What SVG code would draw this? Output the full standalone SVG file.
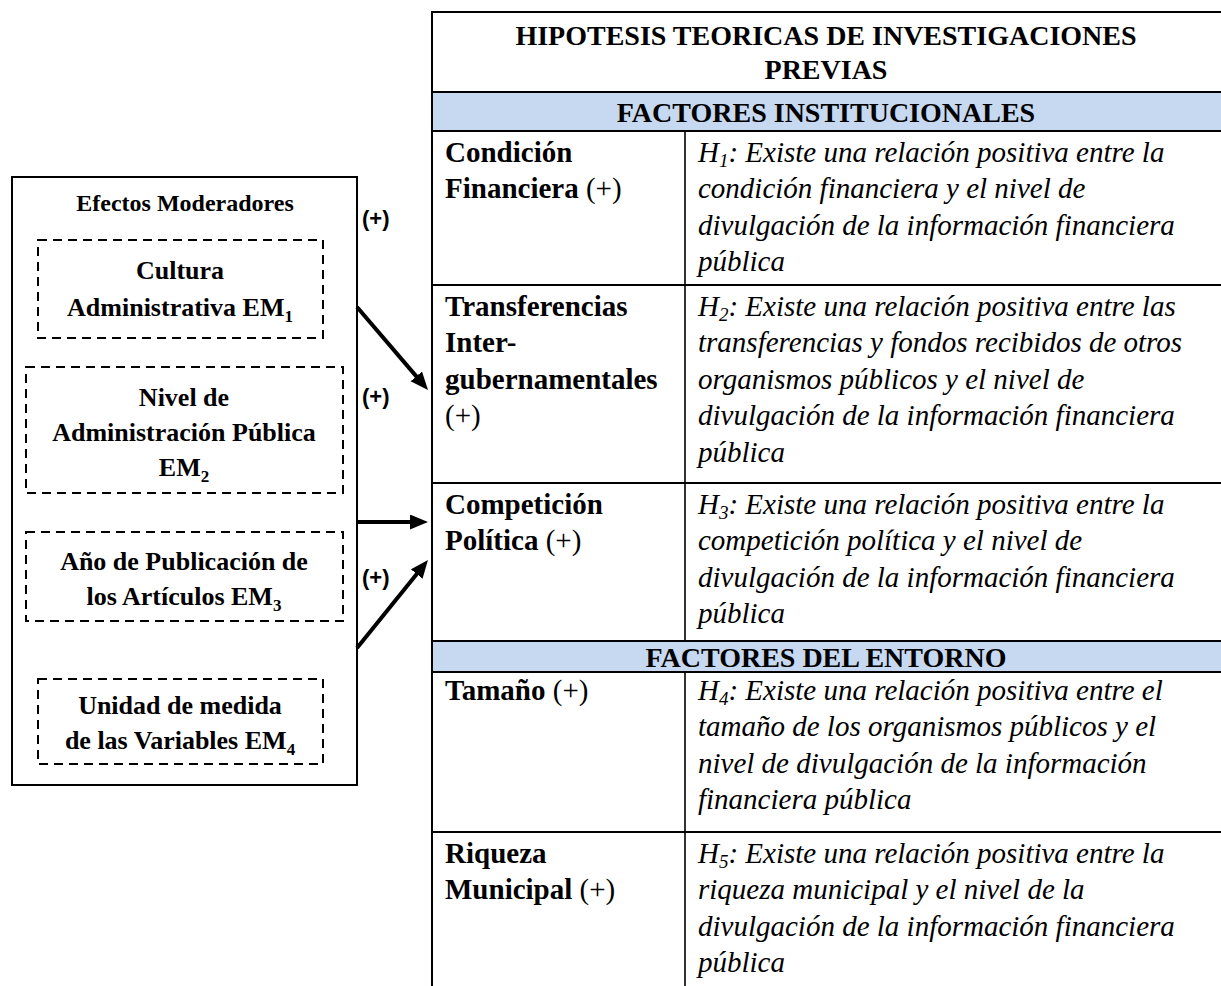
<svg xmlns="http://www.w3.org/2000/svg" width="1221" height="986" viewBox="0 0 1221 986">
<style>
.bg{fill:#ffffff}
.band{fill:#c6d9f1}
.rule{stroke:#000;stroke-width:2;fill:none}
.col{stroke:#000;stroke-width:1.6;fill:none}
.hdr{font-family:"Liberation Serif","Times New Roman",serif;font-weight:bold;font-size:28px;fill:#000;text-anchor:middle}
.lbl{font-family:"Liberation Serif","Times New Roman",serif;font-weight:bold;font-size:29px;fill:#000}
.reg{font-weight:normal}
.hyp{font-family:"Liberation Serif","Times New Roman",serif;font-style:italic;font-size:29px;fill:#000}
.sub{font-size:19px}
.outer{stroke:#000;stroke-width:2;fill:#fff}
.dash{stroke:#000;stroke-width:2;fill:none;stroke-dasharray:9 6}
.em{font-family:"Liberation Serif","Times New Roman",serif;font-weight:bold;font-size:26px;fill:#000;text-anchor:middle}
.emt{font-family:"Liberation Serif","Times New Roman",serif;font-weight:bold;font-size:24px;fill:#000;text-anchor:middle}
.esub{font-size:17px}
.plus{font-family:"Liberation Sans",Arial,sans-serif;font-weight:bold;font-size:22px;fill:#000}
.arrow{stroke:#000;stroke-width:4;fill:none;marker-end:url(#ah)}
</style>
<defs>
<marker id="ah" markerUnits="userSpaceOnUse" markerWidth="20" markerHeight="16" refX="4" refY="7.5" orient="auto">
<path d="M0,0 L18,7.5 L0,15 Z" fill="#000"/>
</marker>
</defs>
<rect class="bg" x="0" y="0" width="1221" height="986"/>

<g id="moderators">
<rect class="outer" x="12" y="177" width="345" height="608"/>
<text class="emt" x="185" y="211">Efectos Moderadores</text>
</g>
<g id="em1">
<rect class="dash" x="38" y="240" width="285" height="98"/>
<text class="em" x="180" y="279">Cultura</text>
<text class="em" x="180" y="316">Administrativa EM<tspan class="esub" dy="6">1</tspan></text>
</g>
<g id="em2">
<rect class="dash" x="26" y="367" width="317" height="126"/>
<text class="em" x="184" y="406">Nivel de</text>
<text class="em" x="184" y="441">Administración Pública</text>
<text class="em" x="184" y="476">EM<tspan class="esub" dy="6">2</tspan></text>
</g>
<g id="em3">
<rect class="dash" x="26" y="532" width="317" height="89"/>
<text class="em" x="184" y="570">Año de Publicación de</text>
<text class="em" x="184" y="605">los Artículos EM<tspan class="esub" dy="6">3</tspan></text>
</g>
<g id="em4">
<rect class="dash" x="38" y="679" width="285" height="85"/>
<text class="em" x="180" y="714">Unidad de medida</text>
<text class="em" x="180" y="749">de las Variables EM<tspan class="esub" dy="6">4</tspan></text>
</g>

<g id="connectors">
<line class="arrow" x1="357" y1="307" x2="418.9" y2="379.4"/>
<line class="arrow" x1="357" y1="522" x2="414" y2="522"/>
<line class="arrow" x1="357" y1="648" x2="419.2" y2="570.9"/>
<text class="plus" x="362" y="226">(+)</text>
<text class="plus" x="362" y="404">(+)</text>
<text class="plus" x="362" y="585">(+)</text>
</g>

<g id="table">
<rect class="band" x="433" y="92" width="790" height="39"/>
<rect class="band" x="433" y="641" width="790" height="31"/>
<path class="rule" d="M1223,12 H432 V986 M432,92 H1223 M432,131 H1223 M432,285 H1223 M432,483 H1223 M432,641 H1223 M432,672 H1223 M432,832 H1223"/>
<path class="col" d="M685,131 V641 M685,672 V986"/>
<text class="hdr" x="826" y="45">HIPOTESIS TEORICAS DE INVESTIGACIONES</text>
<text class="hdr" x="826" y="79">PREVIAS</text>
<text class="hdr" x="826" y="122">FACTORES INSTITUCIONALES</text>
<text class="hdr" x="826" y="667">FACTORES DEL ENTORNO</text>
</g>

<g id="row-h1">
<text class="lbl" x="445" y="162">Condición</text>
<text class="lbl" x="445" y="198">Financiera <tspan class="reg">(+)</tspan></text>
<text class="hyp" x="698" y="162">H<tspan class="sub" dy="5">1</tspan><tspan dy="-5">: Existe una relación positiva entre la</tspan></text>
<text class="hyp" x="698" y="198">condición financiera y el nivel de</text>
<text class="hyp" x="698" y="235">divulgación de la información financiera</text>
<text class="hyp" x="698" y="271">pública</text>
</g>
<g id="row-h2">
<text class="lbl" x="445" y="316">Transferencias</text>
<text class="lbl" x="445" y="352">Inter-</text>
<text class="lbl" x="445" y="389">gubernamentales</text>
<text class="lbl reg" x="445" y="425">(+)</text>
<text class="hyp" x="698" y="316">H<tspan class="sub" dy="5">2</tspan><tspan dy="-5">: Existe una relación positiva entre las</tspan></text>
<text class="hyp" x="698" y="352">transferencias y fondos recibidos de otros</text>
<text class="hyp" x="698" y="389">organismos públicos y el nivel de</text>
<text class="hyp" x="698" y="425">divulgación de la información financiera</text>
<text class="hyp" x="698" y="462">pública</text>
</g>
<g id="row-h3">
<text class="lbl" x="445" y="514">Competición</text>
<text class="lbl" x="445" y="550">Política <tspan class="reg">(+)</tspan></text>
<text class="hyp" x="698" y="514">H<tspan class="sub" dy="5">3</tspan><tspan dy="-5">: Existe una relación positiva entre la</tspan></text>
<text class="hyp" x="698" y="550">competición política y el nivel de</text>
<text class="hyp" x="698" y="587">divulgación de la información financiera</text>
<text class="hyp" x="698" y="623">pública</text>
</g>
<g id="row-h4">
<text class="lbl" x="445" y="700">Tamaño <tspan class="reg">(+)</tspan></text>
<text class="hyp" x="698" y="700">H<tspan class="sub" dy="5">4</tspan><tspan dy="-5">: Existe una relación positiva entre el</tspan></text>
<text class="hyp" x="698" y="736">tamaño de los organismos públicos y el</text>
<text class="hyp" x="698" y="773">nivel de divulgación de la información</text>
<text class="hyp" x="698" y="809">financiera pública</text>
</g>
<g id="row-h5">
<text class="lbl" x="445" y="863">Riqueza</text>
<text class="lbl" x="445" y="899">Municipal <tspan class="reg">(+)</tspan></text>
<text class="hyp" x="698" y="863">H<tspan class="sub" dy="5">5</tspan><tspan dy="-5">: Existe una relación positiva entre la</tspan></text>
<text class="hyp" x="698" y="899">riqueza municipal y el nivel de la</text>
<text class="hyp" x="698" y="936">divulgación de la información financiera</text>
<text class="hyp" x="698" y="972">pública</text>
</g>
</svg>
